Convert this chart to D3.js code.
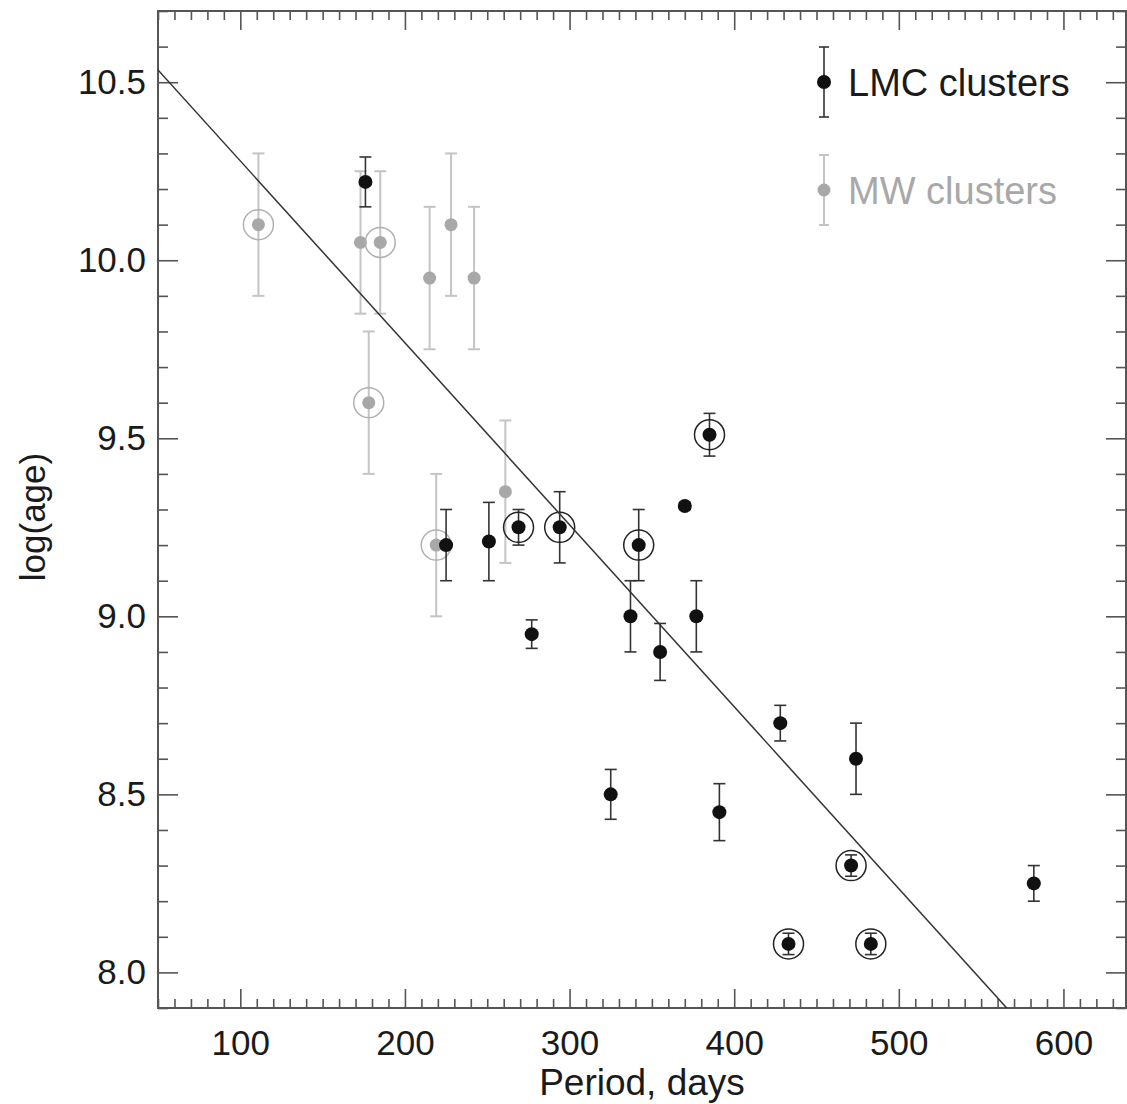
<!DOCTYPE html>
<html>
<head>
<meta charset="utf-8">
<script src="https://cdn.jsdelivr.net/npm/d3@7"></script>
<style>
  body { margin: 0; background: #fff; }
  text { font-family: "Liberation Sans", Arial, Helvetica, sans-serif; }
</style>
</head>
<body>
<div id="chart"></div>
<script>
// LMC clusters
var lmcPeriod = [176, 225, 251, 269, 294, 342, 370, 385, 277, 337, 355, 377, 325, 391, 428, 474, 471, 433, 483, 582];
var lmcAge    = [10.22, 9.20, 9.21, 9.25, 9.25, 9.20, 9.31, 9.51, 8.95, 9.00, 8.90, 9.00, 8.50, 8.45, 8.70, 8.60, 8.30, 8.08, 8.08, 8.25];
var lmcErr    = [0.07, 0.10, 0.11, 0.05, 0.10, 0.10, 0.01, 0.06, 0.04, 0.10, 0.08, 0.10, 0.07, 0.08, 0.05, 0.10, 0.03, 0.03, 0.03, 0.05];
var lmcRing   = [0, 0, 0, 1, 1, 1, 0, 1, 0, 0, 0, 0, 0, 0, 0, 0, 1, 1, 1, 0];

// MW clusters
var mwPeriod = [111, 173, 185, 215, 228, 242, 178, 261, 219];
var mwAge    = [10.10, 10.05, 10.05, 9.95, 10.10, 9.95, 9.60, 9.35, 9.20];
var mwErr    = [0.20, 0.20, 0.20, 0.20, 0.20, 0.20, 0.20, 0.20, 0.20];
var mwRing   = [1, 0, 1, 0, 0, 0, 1, 0, 1];

// fit: log(age) = a + b * P
var fitA = 10.79, fitB = -0.00511;

var xTicks = [100, 200, 300, 400, 500, 600];
var yTicks = [8.0, 8.5, 9.0, 9.5, 10.0, 10.5];
var legendLabels = ["LMC clusters", "MW clusters"];

var width = 1127, height = 1104;
var m = { left: 158, right: 1126, top: 11, bottom: 1008 };

var svg = d3.select("#chart").append("svg")
    .attr("width", width)
    .attr("height", height);

var x = d3.scaleLinear().domain([50, 638]).range([m.left, m.right]);
var y = d3.scaleLinear().domain([7.9, 10.7]).range([m.bottom, m.top]);

var xMinor = d3.range(50, 640, 10).filter(function (d) { return d % 100 !== 0; });
var yMinor = d3.range(79, 108, 1).map(function (d) { return d / 10; })
    .filter(function (d) { return Math.round(d * 10) % 5 !== 0; });

var axisColor = "#555";

function styleAxis(g) {
    g.select(".domain").remove();
    g.selectAll(".tick line").attr("stroke", axisColor).attr("stroke-width", 1.6);
    g.selectAll("text").attr("fill", "#1a1a1a").style("font-size", "35px");
}

// bottom
svg.append("g").attr("transform", "translate(0," + m.bottom + ")")
    .call(d3.axisBottom(x).tickValues(xTicks).tickSize(-19).tickPadding(22).tickFormat(d3.format("d")))
    .call(styleAxis);
svg.append("g").attr("transform", "translate(0," + m.bottom + ")")
    .call(d3.axisBottom(x).tickValues(xMinor).tickSize(-9).tickFormat(""))
    .call(styleAxis);
// top
svg.append("g").attr("transform", "translate(0," + m.top + ")")
    .call(d3.axisTop(x).tickValues(xTicks).tickSize(-19).tickFormat(""))
    .call(styleAxis);
svg.append("g").attr("transform", "translate(0," + m.top + ")")
    .call(d3.axisTop(x).tickValues(xMinor).tickSize(-9).tickFormat(""))
    .call(styleAxis);
// left
svg.append("g").attr("transform", "translate(" + m.left + ",0)")
    .call(d3.axisLeft(y).tickValues(yTicks).tickSize(-20).tickPadding(12).tickFormat(d3.format(".1f")))
    .call(styleAxis);
svg.append("g").attr("transform", "translate(" + m.left + ",0)")
    .call(d3.axisLeft(y).tickValues(yMinor).tickSize(-10).tickFormat(""))
    .call(styleAxis);
// right
svg.append("g").attr("transform", "translate(" + m.right + ",0)")
    .call(d3.axisRight(y).tickValues(yTicks).tickSize(-20).tickFormat(""))
    .call(styleAxis);
svg.append("g").attr("transform", "translate(" + m.right + ",0)")
    .call(d3.axisRight(y).tickValues(yMinor).tickSize(-10).tickFormat(""))
    .call(styleAxis);

// frame
svg.append("rect")
    .attr("x", m.left).attr("y", m.top)
    .attr("width", m.right - m.left).attr("height", m.bottom - m.top)
    .attr("fill", "none").attr("stroke", axisColor).attr("stroke-width", 2);

// axis titles
svg.append("text")
    .attr("x", (m.left + m.right) / 2).attr("y", 1095)
    .attr("text-anchor", "middle")
    .style("font-size", "37px").attr("fill", "#1a1a1a")
    .text("Period, days");
svg.append("text")
    .attr("transform", "translate(45," + 517 + ") rotate(-90)")
    .attr("text-anchor", "middle")
    .style("font-size", "35px").attr("fill", "#1a1a1a")
    .text("log(age)");

svg.append("defs").append("clipPath").attr("id", "clip")
    .append("rect").attr("x", m.left).attr("y", m.top)
    .attr("width", m.right - m.left).attr("height", m.bottom - m.top);

var plot = svg.append("g").attr("clip-path", "url(#clip)");

function drawSeries(periods, ages, errs, rings, dotColor, barColor, ringColor, barWidth, r) {
    var data = periods.map(function (p, i) {
        return { p: p, a: ages[i], e: errs[i], ring: rings[i] };
    });
    var g = plot.append("g");
    var cap = 6;
    data.forEach(function (d) {
        var cx = x(d.p);
        var y0 = y(d.a - d.e), y1 = y(d.a + d.e);
        g.append("line").attr("x1", cx).attr("x2", cx).attr("y1", y0).attr("y2", y1)
            .attr("stroke", barColor).attr("stroke-width", barWidth);
        [y0, y1].forEach(function (yy) {
            g.append("line").attr("x1", cx - cap).attr("x2", cx + cap).attr("y1", yy).attr("y2", yy)
                .attr("stroke", barColor).attr("stroke-width", barWidth);
        });
    });
    g.selectAll("circle.dot").data(data).join("circle")
        .attr("class", "dot")
        .attr("cx", function (d) { return x(d.p); })
        .attr("cy", function (d) { return y(d.a); })
        .attr("r", r)
        .attr("fill", dotColor);
    g.selectAll("circle.ring").data(data.filter(function (d) { return d.ring; })).join("circle")
        .attr("class", "ring")
        .attr("cx", function (d) { return x(d.p); })
        .attr("cy", function (d) { return y(d.a); })
        .attr("r", 15)
        .attr("fill", "none")
        .attr("stroke", ringColor)
        .attr("stroke-width", 1.5);
}

drawSeries(mwPeriod, mwAge, mwErr, mwRing, "#a8a8a8", "#c4c4c4", "#b0b0b0", 2, 6.5);
drawSeries(lmcPeriod, lmcAge, lmcErr, lmcRing, "#111", "#333", "#222", 1.6, 7);

// fit line
plot.append("path")
    .datum([50, 640])
    .attr("d", d3.line()
        .x(function (d) { return x(d); })
        .y(function (d) { return y(fitA + fitB * d); }))
    .attr("fill", "none")
    .attr("stroke", "#333")
    .attr("stroke-width", 1.5);

// legend
var legendColors = [["#111", "#333"], ["#a8a8a8", "#c4c4c4"]];
var legend = svg.append("g");
legendLabels.forEach(function (label, i) {
    var cy = 82 + i * 108;
    var g = legend.append("g");
    g.append("line").attr("x1", 824).attr("x2", 824).attr("y1", cy - 35).attr("y2", cy + 35)
        .attr("stroke", legendColors[i][1]).attr("stroke-width", i ? 2 : 1.6);
    [cy - 35, cy + 35].forEach(function (yy) {
        g.append("line").attr("x1", 819).attr("x2", 829).attr("y1", yy).attr("y2", yy)
            .attr("stroke", legendColors[i][1]).attr("stroke-width", i ? 2 : 1.6);
    });
    g.append("circle").attr("cx", 824).attr("cy", cy).attr("r", i ? 6.5 : 7).attr("fill", legendColors[i][0]);
    g.append("text").attr("x", 848).attr("y", cy + 14)
        .style("font-size", "38px")
        .attr("fill", i ? "#a8a8a8" : "#1a1a1a")
        .text(label);
});
</script>
</body>
</html>
